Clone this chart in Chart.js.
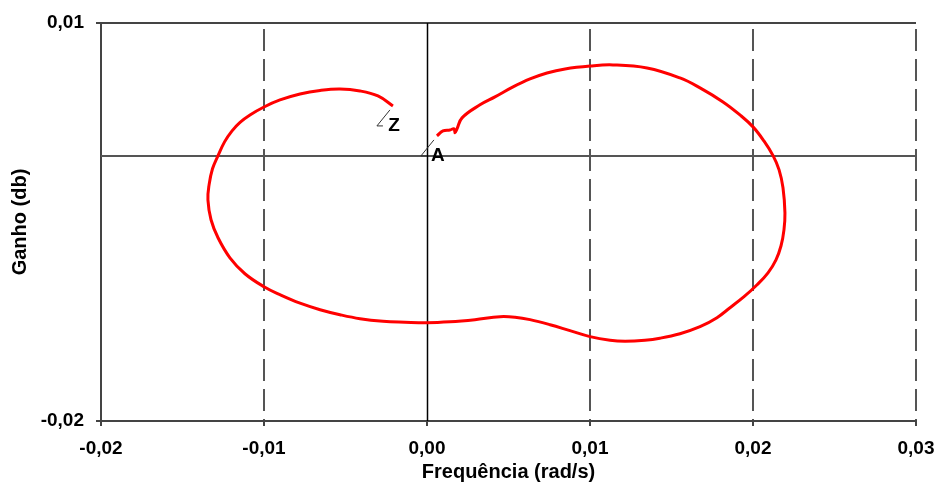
<!DOCTYPE html>
<html>
<head>
<meta charset="utf-8">
<script src="https://cdn.jsdelivr.net/npm/chart.js@4/dist/chart.umd.min.js"></script>
<style>
    html, body {margin: 0; padding: 0; background: #ffffff;}
    canvas {display: block;}
</style>
</head>
<body>
<canvas id="chart_nyquist" width="936" height="492"></canvas>
<script>
// values, from A round to Z
const freq = [
    0.00061, 0.00098, 0.00141, 0.00166, 0.00172, 0.00184, 0.00215, 0.00325, 0.00417, 0.00528,
    0.00632, 0.00736, 0.00847, 0.01000, 0.01141, 0.01350, 0.01552, 0.01675, 0.01816, 0.01920,
    0.02000, 0.02067, 0.02123, 0.02160, 0.02184, 0.02196, 0.02190, 0.02172, 0.02141, 0.02092,
    0.02025, 0.01945, 0.01859, 0.01779, 0.01675, 0.01552, 0.01429, 0.01337, 0.01215, 0.01123,
    0.01000, 0.00877, 0.00755, 0.00632, 0.00540, 0.00448, 0.00294, 0.00141, 0.00000, -0.00135,
    -0.00270, -0.00411, -0.00534, -0.00656, -0.00779, -0.00902, -0.01000, -0.01117, -0.01209, -0.01282,
    -0.01325, -0.01344, -0.01337, -0.01316, -0.01282, -0.01242, -0.01196, -0.01147, -0.01086, -0.01000,
    -0.00902, -0.00779, -0.00656, -0.00534, -0.00411, -0.00301, -0.00209,
];
const gain = [
    0.00149, 0.00187, 0.00194, 0.00202, 0.00172, 0.00202, 0.00285, 0.00383, 0.00443, 0.00518,
    0.00578, 0.00623, 0.00654, 0.00676, 0.00684, 0.00661, 0.00586, 0.00511, 0.00405, 0.00307,
    0.00217, 0.00111, 0.00000, -0.00107, -0.00242, -0.00431, -0.00559, -0.00679, -0.00785, -0.00883,
    -0.00973, -0.01063, -0.01146, -0.01221, -0.01289, -0.01342, -0.01376, -0.01391, -0.01398, -0.01391,
    -0.01364, -0.01319, -0.01274, -0.01236, -0.01218, -0.01214, -0.01236, -0.01252, -0.01259, -0.01255,
    -0.01248, -0.01229, -0.01199, -0.01161, -0.01112, -0.01048, -0.00988, -0.00890, -0.00770, -0.00619,
    -0.00483, -0.00333, -0.00220, -0.00099, 0.00000, 0.00104, 0.00187, 0.00251, 0.00307, 0.00367,
    0.00420, 0.00465, 0.00492, 0.00503, 0.00488, 0.00450, 0.00375,
];
const xTicks = [-0.02, -0.01, 0.00, 0.01, 0.02, 0.03];
const yTicks = [-0.02, 0.01];
const endLabels = ['A', 'Z'];

const FONT = '"Liberation Sans", Arial, sans-serif';
const AXIS = '#444444';

function fmt(v) {
    return v.toFixed(2).replace('.', ',');
}

// solid lines through the origin
const zeroLines = {
    id: 'zeroLines',
    beforeDatasetsDraw(chart) {
        const {ctx, chartArea: a, scales: {x, y}} = chart;
        ctx.save();
        ctx.beginPath();
        ctx.strokeStyle = '#555555';
        ctx.lineWidth = 2;
        ctx.moveTo(a.left, Math.round(y.getPixelForValue(0)));
        ctx.lineTo(a.right, Math.round(y.getPixelForValue(0)));
        ctx.stroke();
        ctx.beginPath();
        ctx.strokeStyle = '#000000';
        ctx.lineWidth = 1.5;
        const x0 = Math.round(x.getPixelForValue(0)) + 0.5;
        ctx.moveTo(x0, a.top);
        ctx.lineTo(x0, a.bottom);
        ctx.stroke();
        ctx.restore();
    },
};

// "A" at the first point, "Z" at the last one
const pointLabels = {
    id: 'pointLabels',
    afterDatasetsDraw(chart) {
        const {ctx} = chart;
        const pts = chart.getDatasetMeta(0).data;
        [pts[0], pts[pts.length - 1]].forEach((p, i) => {
            ctx.save();
            ctx.strokeStyle = '#333333';
            ctx.lineWidth = 1;
            ctx.beginPath();
            ctx.moveTo(p.x - 3, p.y + 4);
            ctx.lineTo(p.x - 16, p.y + 20);
            ctx.lineTo(p.x - 10, p.y + 20);
            ctx.stroke();
            ctx.fillStyle = '#000000';
            ctx.font = 'bold 19px ' + FONT;
            ctx.textAlign = 'center';
            ctx.textBaseline = 'middle';
            ctx.fillText(endLabels[i], p.x + 1, p.y + 20);
            ctx.restore();
        });
    },
};

function showNyquist() {
    return new Chart(document.getElementById('chart_nyquist'), {
        type   : 'scatter',
        data   : {
            datasets: [{
                data       : freq.map((f, i) => ({x: f, y: gain[i]})),
                showLine   : true,
                borderColor: '#ff0000',
                borderWidth: 3,
                pointRadius: 0,
                tension    : 0.4,
            }],
        },
        options: {
            responsive: false,
            animation : false,
            layout    : {padding: {top: 23, right: 20, left: 0, bottom: 0}},
            plugins   : {
                legend : {display: false},
                tooltip: {enabled: false},
            },
            scales    : {
                x: {
                    type           : 'linear',
                    min            : -0.02,
                    max            : 0.03,
                    afterBuildTicks: s => { s.ticks = xTicks.map(v => ({value: v})); },
                    afterFit       : s => {
                        s.height = 71;
                        s.paddingLeft = 0;
                        s.paddingRight = 0;
                    },
                    ticks          : {
                        color   : '#000000',
                        font    : {family: FONT, size: 19, weight: 'bold'},
                        padding : 11,
                        callback: v => fmt(v),
                    },
                    grid           : {
                        color     : c => (c.tick && (c.tick.value === 0 || c.tick.value === -0.02)) ? 'rgba(0,0,0,0)' : '#555555',
                        lineWidth : 2,
                        tickLength: 5,
                        tickColor : AXIS,
                        tickWidth : 2,
                    },
                    border         : {display: true, color: AXIS, width: 2, dash: [22, 8], dashOffset: 24},
                    title          : {
                        display: true,
                        text   : 'Frequência (rad/s)',
                        color  : '#000000',
                        font   : {family: FONT, size: 20, weight: 'bold'},
                        padding: {top: 0, bottom: 8},
                    },
                },
                y: {
                    type           : 'linear',
                    min            : -0.02,
                    max            : 0.01,
                    afterBuildTicks: s => { s.ticks = yTicks.map(v => ({value: v})); },
                    afterFit       : s => {
                        s.width = 101;
                        s.paddingTop = 0;
                        s.paddingBottom = 0;
                    },
                    ticks          : {
                        color   : '#000000',
                        font    : {family: FONT, size: 19, weight: 'bold'},
                        padding : 12,
                        callback: v => fmt(v),
                    },
                    grid           : {
                        color     : AXIS,
                        lineWidth : 2,
                        tickLength: 5,
                        tickColor : AXIS,
                        tickWidth : 2,
                    },
                    border         : {display: true, color: AXIS, width: 2},
                    title          : {
                        display: true,
                        text   : 'Ganho (db)',
                        color  : '#000000',
                        font   : {family: FONT, size: 20, weight: 'bold'},
                        padding: {top: 8, bottom: 0},
                    },
                },
            },
        },
        plugins: [zeroLines, pointLabels],
    });
}

showNyquist();
</script>
</body>
</html>
